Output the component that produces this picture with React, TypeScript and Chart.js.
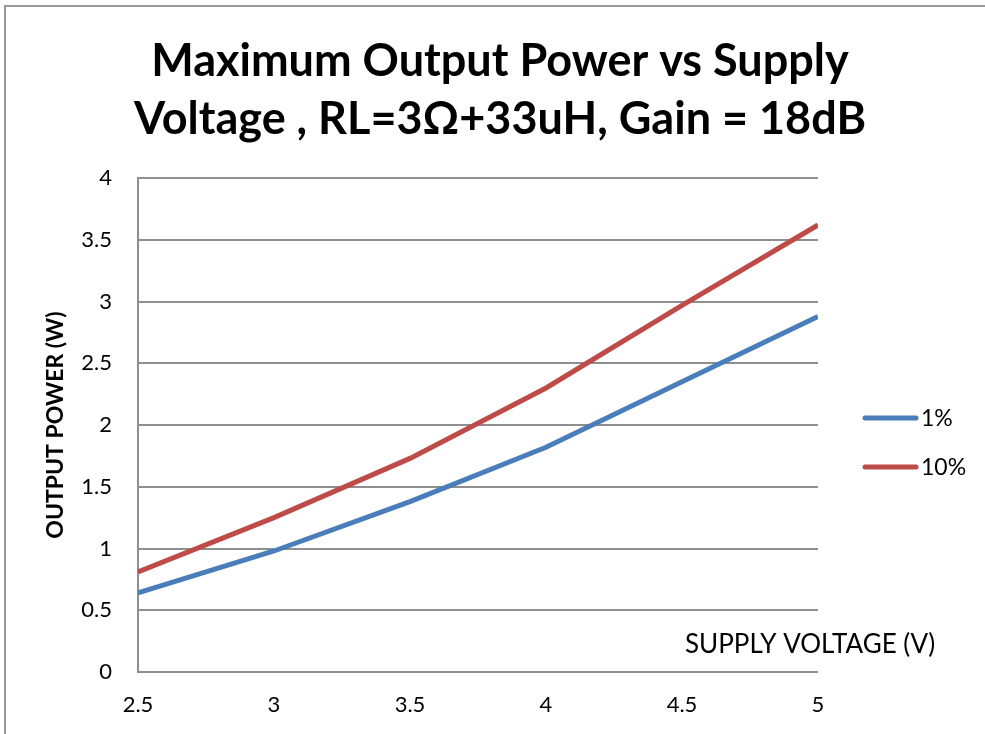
import React, { useEffect, useRef } from "react";
import { Chart, registerables } from "chart.js";

Chart.register(...registerables);

const titleLines = ["Maximum Output Power vs Supply", "Voltage , RL=3\u03A9+33uH, Gain = 18dB"];
const yAxisTitle = "OUTPUT POWER (W)";
const xAxisTitle = "SUPPLY VOLTAGE (V)";
const supplyVoltage = [2.5, 3, 3.5, 4, 4.5, 5];
const power1pct = [0.64, 0.98, 1.38, 1.82, 2.35, 2.88];
const power10pct = [0.81, 1.25, 1.73, 2.3, 2.97, 3.62];
const seriesLabels = ["1%", "10%"];
const seriesColors = ["#4A7EBB", "#BE4B48"];

const FONT = "Lato, 'Open Sans', sans-serif";

const overlayPlugin = {
  id: "overlayText",
  afterDraw(chart: any) {
    const ctx = chart.ctx;
    const area = chart.chartArea;
    ctx.save();
    chart.data.datasets.forEach((ds: any, i: number) => {
      const y = 418 + i * 49;
      ctx.strokeStyle = ds.borderColor;
      ctx.lineWidth = 5;
      ctx.lineCap = "round";
      ctx.beginPath();
      ctx.moveTo(865, y);
      ctx.lineTo(916, y);
      ctx.stroke();
      ctx.fillStyle = "#000";
      ctx.font = `23px ${FONT}`;
      ctx.textBaseline = "middle";
      ctx.textAlign = "left";
      ctx.fillText(ds.label, 921, y + 1);
    });
    ctx.fillStyle = "#000";
    ctx.font = `26px ${FONT}`;
    ctx.textBaseline = "middle";
    ctx.textAlign = "left";
    ctx.fillText(xAxisTitle, 685, area.bottom - 27);
    ctx.restore();
  },
};

const fmt = (v: any) => String(Number(v));

export default function App() {
  const ref = useRef<HTMLCanvasElement>(null);
  useEffect(() => {
    if (!ref.current) return;
    const chart = new Chart(ref.current, {
      type: "line",
      data: {
        datasets: [
          {
            label: seriesLabels[0],
            data: supplyVoltage.map((v, i) => ({ x: v, y: power1pct[i] })),
            borderColor: seriesColors[0],
            backgroundColor: seriesColors[0],
            borderWidth: 5,
            pointRadius: 0,
            tension: 0,
          },
          {
            label: seriesLabels[1],
            data: supplyVoltage.map((v, i) => ({ x: v, y: power10pct[i] })),
            borderColor: seriesColors[1],
            backgroundColor: seriesColors[1],
            borderWidth: 5,
            pointRadius: 0,
            tension: 0,
          },
        ],
      },
      options: {
        animation: false,
        responsive: false,
        maintainAspectRatio: false,
        layout: { padding: { left: 15, right: 0, top: 0, bottom: 0 } },
        plugins: {
          legend: { display: false },
          tooltip: { enabled: false },
          title: {
            display: true,
            text: titleLines,
            color: "#000",
            font: { family: FONT, size: 45, weight: "bold", lineHeight: 1.29 },
            padding: { top: 32, bottom: 30 },
          },
        },
        scales: {
          x: {
            type: "linear",
            min: 2.5,
            max: 5,
            ticks: { stepSize: 0.5, color: "#000", font: { family: FONT, size: 22 }, padding: 20, callback: fmt },
            grid: { display: false, drawTicks: false },
            border: { display: false },
            afterFit: (s: any) => {
              s.height = 62;
            },
          },
          y: {
            min: 0,
            max: 4,
            ticks: { stepSize: 0.5, color: "#000", font: { family: FONT, size: 22 }, padding: 26, callback: fmt },
            grid: { color: "#8f8f8f", lineWidth: 2, drawTicks: false },
            border: { display: true, color: "#8f8f8f", width: 2 },
            title: {
              display: true,
              text: yAxisTitle,
              color: "#000",
              font: { family: FONT, size: 23, weight: "bold", lineHeight: 1.2 },
              padding: { top: 27, bottom: 0 },
            },
            afterFit: (s: any) => {
              s.width = 123;
            },
          },
          yR: {
            position: "right",
            min: 0,
            max: 1,
            ticks: { display: false },
            grid: { display: false, drawTicks: false },
            border: { display: false },
            afterFit: (s: any) => {
              s.width = 167;
            },
          },
        },
      },
      plugins: [overlayPlugin],
    } as any);
    return () => chart.destroy();
  }, []);

  return (
    <div style={{ position: "absolute", left: 0, top: 0, width: 985, height: 734, overflow: "hidden", background: "#fff" }}>
      <div
        style={{
          position: "absolute",
          left: 4,
          top: 5,
          width: 1200,
          height: 1000,
          border: "2px solid #999",
          boxSizing: "border-box",
        }}
      />
      <canvas ref={ref} width={985} height={734} style={{ position: "absolute", left: 0, top: 0, width: 985, height: 734 }} />
    </div>
  );
}
